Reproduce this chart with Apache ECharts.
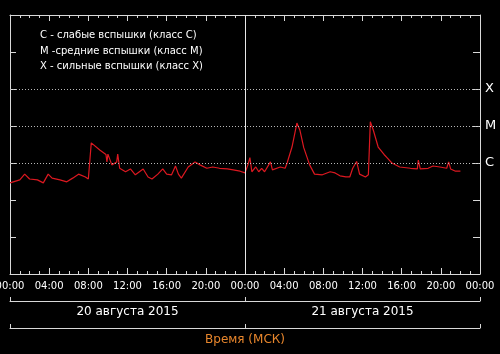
<!DOCTYPE html>
<html>
<head>
<meta charset="utf-8">
<script src="https://cdn.jsdelivr.net/npm/echarts@6/dist/echarts.min.js"></script>
<style>
  html, body { margin: 0; padding: 0; background: #000; }
  #main { width: 500px; height: 354px; }
</style>
</head>
<body>
<div id="main"></div>
<script>
// hours since 20 Aug 2015 00:00 MSK
var hours = [0.0, 1.0, 1.5, 2.0, 2.8, 3.4, 3.9, 4.3, 5.1, 5.8, 6.4, 7.0, 7.7, 8.0, 8.3, 8.5,
  9.2, 9.8, 9.9, 10.0, 10.4, 10.9, 11.0, 11.2, 11.8, 12.3, 12.8, 13.6, 14.1, 14.5, 15.1, 15.6,
  16.0, 16.5, 16.9, 17.2, 17.5, 18.2, 18.9, 19.4, 20.1, 20.7, 21.4, 22.2, 22.8, 23.5, 24.0,
  24.3, 24.5, 24.7, 25.1, 25.4, 25.7, 26.0, 26.6, 26.8, 27.6, 28.1, 28.3, 28.8, 29.3, 29.6,
  30.0, 30.6, 31.1, 31.9, 32.7, 33.2, 33.7, 34.3, 34.7, 35.0, 35.4, 35.7, 36.3, 36.6, 36.8,
  37.1, 37.6, 38.2, 38.5, 39.0, 39.8, 40.9, 41.6, 41.7, 41.9, 42.7, 43.2, 43.9, 44.6, 44.8,
  45.0, 45.5, 46.0];
// X-ray flux, W/m2
var flux = [2.9e-7, 3.5e-7, 5.0e-7, 3.7e-7, 3.5e-7, 2.9e-7, 5.0e-7, 3.9e-7, 3.5e-7, 3.1e-7, 3.9e-7, 5.0e-7, 4.2e-7, 3.7e-7, 3.5e-6, 3.5e-6,
  2.2e-6, 1.7e-6, 1.07e-6, 1.74e-6, 8.9e-7, 1.07e-6, 1.74e-6, 7.2e-7, 5.8e-7, 6.9e-7, 4.8e-7, 6.9e-7, 4.2e-7, 3.7e-7, 5.0e-7, 6.9e-7,
  5.0e-7, 4.8e-7, 8.3e-7, 5.0e-7, 3.9e-7, 7.8e-7, 1.07e-6, 8.9e-7, 7.2e-7, 7.8e-7, 7.2e-7, 6.9e-7, 6.5e-7, 6.0e-7, 5.4e-7,
  8.9e-7, 1.4e-6, 5.8e-7, 7.8e-7, 5.8e-7, 7.2e-7, 5.8e-7, 1.07e-6, 6.5e-7, 7.8e-7, 7.2e-7, 1.0e-6, 2.7e-6, 1.2e-5, 7.8e-6,
  2.6e-6, 8.9e-7, 5.0e-7, 4.8e-7, 5.8e-7, 5.4e-7, 4.5e-7, 4.2e-7, 4.2e-7, 7.2e-7, 1.1e-6, 5.0e-7, 4.2e-7, 4.8e-7, 1.3e-5,
  7.8e-6, 2.7e-6, 1.7e-6, 1.4e-6, 1.0e-6, 7.8e-7, 7.2e-7, 6.9e-7, 1.2e-6, 6.9e-7, 7.2e-7, 8.3e-7, 7.8e-7, 7.2e-7, 1.07e-6,
  6.9e-7, 6.0e-7, 6.0e-7];

var classLevels = [1e-6, 1e-5, 1e-4];
var classNames = ['C', 'M', 'X'];
var dayLabels = ['20 августа 2015', '21 августа 2015'];
var legendLines = [
  'C - слабые вспышки (класс C)',
  'M -средние вспышки (класс M)',
  'X - сильные вспышки (класс X)'
];

var axisColor = '#d8d8d8';
var points = hours.map(function (h, i) { return [h, flux[i]]; });

// dotted level lines + day divider
var levelLines = classLevels.map(function (v) {
  return [
    { coord: [0, v], lineStyle: { color: '#b8b8b8', type: [1, 2], width: 1 } },
    { coord: [48, v] }
  ];
});
levelLines.push([
  { coord: [24, 1e-9], lineStyle: { color: '#e8e8e8', type: 'solid', width: 1 } },
  { coord: [24, 1e-2] }
]);

var myChart = echarts.init(document.getElementById('main'));
var option = {
  backgroundColor: '#000',
  animation: false,
  title: {
    text: legendLines.join('\n'),
    left: 40,
    top: 28,
    padding: 0,
    textStyle: { color: '#fff', fontSize: 10, fontWeight: 'normal', fontFamily: 'DejaVu Sans', lineHeight: 15.5 }
  },
  grid: { left: 10, right: 20, top: 15, bottom: 80, outerBoundsMode: 'none' },
  xAxis: [
    {
      type: 'value', min: 0, max: 48, interval: 4, position: 'bottom',
      axisLine: { onZero: false, lineStyle: { color: axisColor } },
      axisTick: { inside: true, length: 6, lineStyle: { color: axisColor } },
      minorTick: { show: true, splitNumber: 4, length: 3, lineStyle: { color: axisColor } },
      splitLine: { show: false },
      axisLabel: {
        color: '#fff', fontSize: 10, fontFamily: 'DejaVu Sans', margin: 7,
        formatter: function (v) { var h = v % 24; return (h < 10 ? '0' : '') + h + ':00'; }
      }
    },
    {
      type: 'value', min: 0, max: 48, interval: 4, position: 'top',
      axisLine: { onZero: false, lineStyle: { color: axisColor } },
      axisTick: { inside: true, length: 6, lineStyle: { color: axisColor } },
      minorTick: { show: true, splitNumber: 4, length: 3, lineStyle: { color: axisColor } },
      splitLine: { show: false },
      axisLabel: { show: false }
    },
    {
      type: 'value', min: 0, max: 48, position: 'bottom', offset: 27,
      axisLine: { onZero: false, lineStyle: { color: axisColor } },
      axisTick: { inside: true, length: 4, customValues: [0, 24, 48], lineStyle: { color: axisColor } },
      splitLine: { show: false },
      axisLabel: {
        color: '#fff', fontSize: 12, fontFamily: 'DejaVu Sans', margin: 5,
        customValues: [12, 36],
        formatter: function (v) { return v === 12 ? dayLabels[0] : dayLabels[1]; }
      }
    },
    {
      type: 'value', min: 0, max: 48, position: 'bottom', offset: 54,
      name: 'Время (МСК)', nameLocation: 'middle', nameGap: 6,
      nameTextStyle: { color: '#e8862c', fontSize: 12, fontFamily: 'DejaVu Sans' },
      axisLine: { onZero: false, lineStyle: { color: axisColor } },
      axisTick: { inside: true, length: 4, customValues: [0, 24, 48], lineStyle: { color: axisColor } },
      splitLine: { show: false },
      axisLabel: { show: false }
    }
  ],
  yAxis: [
    {
      type: 'log', logBase: 10, min: 1e-9, max: 1e-2, interval: 1, position: 'left',
      axisLine: { show: true, onZero: false, lineStyle: { color: axisColor } },
      axisTick: { show: true, inside: true, length: 6, lineStyle: { color: axisColor } },
      splitLine: { show: false },
      axisLabel: { show: false }
    },
    {
      type: 'log', logBase: 10, min: 1e-9, max: 1e-2, interval: 1, position: 'right',
      axisLine: { show: true, onZero: false, lineStyle: { color: axisColor } },
      axisTick: { show: true, inside: true, length: 7, lineStyle: { color: axisColor } },
      splitLine: { show: false },
      axisLabel: {
        color: '#fff', fontSize: 13, fontFamily: 'DejaVu Sans', margin: 5,
        formatter: function (v) {
          for (var i = 0; i < classLevels.length; i++) {
            if (Math.abs(Math.log10(v) - Math.log10(classLevels[i])) < 0.01) return classNames[i];
          }
          return '';
        }
      }
    }
  ],
  series: [
    {
      type: 'line',
      xAxisIndex: 0, yAxisIndex: 0,
      data: points,
      showSymbol: false,
      lineStyle: { color: '#dc1820', width: 1.2 },
      markLine: {
        silent: true, symbol: 'none', label: { show: false },
        data: levelLines
      }
    }
  ]
};
myChart.setOption(option);
</script>
</body>
</html>
